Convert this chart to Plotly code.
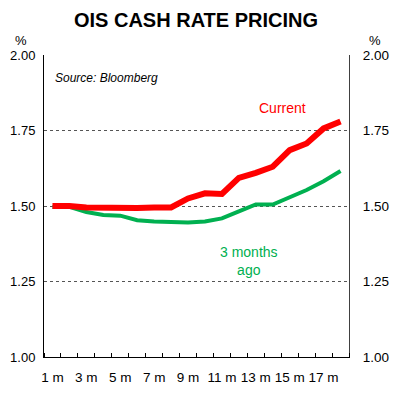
import plotly.graph_objects as go

months = list(range(1, 19))
tick_months = [1, 3, 5, 7, 9, 11, 13, 15, 17]
tick_labels = [f"{m} m" for m in tick_months]
y_ticks = [1.00, 1.25, 1.50, 1.75, 2.00]
y_tick_labels = ["1.00", "1.25", "1.50", "1.75", "2.00"]

current = [1.500, 1.500, 1.495, 1.493, 1.493, 1.493, 1.495, 1.495, 1.525,
           1.542, 1.540, 1.593, 1.610, 1.630, 1.685, 1.707, 1.757, 1.780]
three_months_ago = [1.497, 1.497, 1.480, 1.470, 1.468, 1.453, 1.449, 1.448, 1.445,
                    1.449, 1.459, 1.482, 1.505, 1.505, 1.529, 1.553, 1.582, 1.616]

RED = "#FF0000"
GREEN = "#00B050"
FONT = "Liberation Sans, Arial, sans-serif"

fig = go.Figure()
fig.add_trace(go.Scatter(x=months, y=three_months_ago, mode="lines",
                         line=dict(color=GREEN, width=4), name="3 months ago",
                         showlegend=False))
fig.add_trace(go.Scatter(x=months, y=current, mode="lines",
                         line=dict(color=RED, width=6), name="Current",
                         showlegend=False))
# invisible trace to activate right axis
fig.add_trace(go.Scatter(x=months, y=current, mode="lines", yaxis="y2",
                         line=dict(color="rgba(0,0,0,0)", width=0),
                         hoverinfo="skip", showlegend=False))

fig.update_layout(
    width=395, height=388,
    margin=dict(l=36, r=54, t=47, b=39),
    paper_bgcolor="white", plot_bgcolor="white",
    font=dict(family=FONT, size=14, color="black"),
    title=dict(text="<b>OIS CASH RATE PRICING</b>", x=0.476, xanchor="center",
               y=0.969, yanchor="middle",
               font=dict(family=FONT, size=20, color="black")),
    xaxis=dict(range=[0.5, 18.5], tickmode="array", tickvals=tick_months,
               ticktext=tick_labels, ticks="", showgrid=False,
               showline=True, linecolor="black", linewidth=1,
               zeroline=False, ticklabelstandoff=8, tickangle=0, automargin=False,
               minor=dict(tickmode="linear", tick0=0.5, dtick=1, ticks="inside",
                          ticklen=4, tickcolor="black", showgrid=False),
               tickfont=dict(size=13.5)),
    yaxis=dict(range=[1.0, 2.0], tickmode="array", tickvals=y_ticks,
               ticktext=y_tick_labels, showgrid=True, gridcolor="#555555",
               griddash="dot", gridwidth=1, showline=True, linecolor="black",
               linewidth=1, zeroline=False, ticks="", ticklabelstandoff=5,
               automargin=False, tickfont=dict(size=13)),
    yaxis2=dict(range=[1.0, 2.0], overlaying="y", side="right", tickmode="array",
                tickvals=y_ticks, ticktext=y_tick_labels, showgrid=False,
                showline=True, linecolor="#404040", linewidth=1, zeroline=False,
                ticks="", ticklabelstandoff=10, automargin=False,
                tickfont=dict(size=13.5)),
    annotations=[
        dict(text="%", xref="paper", yref="paper", x=-0.075, y=1.0, yshift=15,
             showarrow=False, font=dict(size=13), xanchor="center", yanchor="middle"),
        dict(text="%", xref="paper", yref="paper", x=1.085, y=1.0, yshift=15,
             showarrow=False, font=dict(size=13), xanchor="center", yanchor="middle"),
        dict(text="<i>Source: Bloomberg</i>", xref="paper", yref="paper",
             x=0.031, y=0.925, xanchor="left", yanchor="middle",
             showarrow=False, font=dict(size=12)),
        dict(text="Current", xref="x", yref="y", x=14.6, y=1.825,
             showarrow=False, font=dict(size=14, color=RED)),
        dict(text="3 months<br>ago", xref="x", yref="y", x=12.6, y=1.317,
             showarrow=False, font=dict(size=14, color=GREEN)),
    ],
)

fig.write_html("out.html")
